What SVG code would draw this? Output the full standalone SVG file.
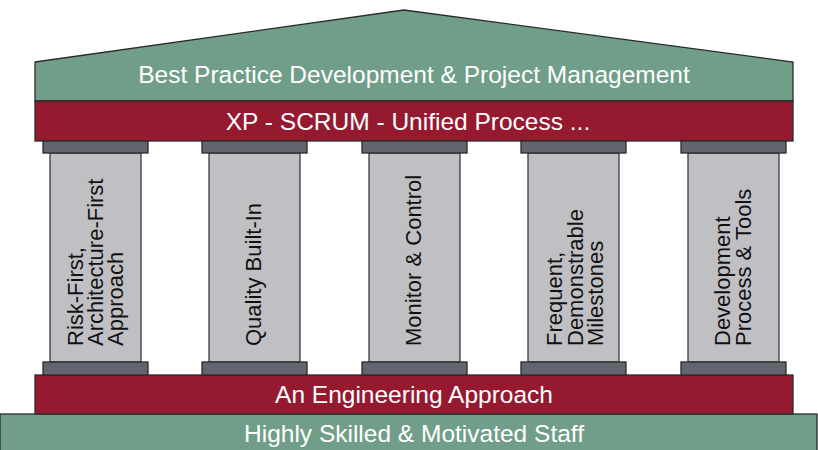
<svg xmlns="http://www.w3.org/2000/svg" width="818" height="450" viewBox="0 0 818 450">
<defs>
<style>
.green{fill:#719e89;stroke:#2a2a2a;stroke-width:1.3}
.red{fill:#951a30;stroke:#2a2a2a;stroke-width:1.3}
.cap{fill:#62656e;stroke:#2a2a2a;stroke-width:1.3}
.shaft{fill:#c0bfc4;stroke:#3a3a3a;stroke-width:1.3}
.wt{font-family:"Liberation Sans",Arial,sans-serif;font-size:24.5px;fill:#ffffff;text-anchor:middle}
.ct{font-family:"Liberation Sans",Arial,sans-serif;font-size:22px;fill:#111111;text-anchor:start}
</style>
</defs>
<rect width="818" height="450" fill="#ffffff"/>
<g id="base">
<rect class="green" x="0" y="414" width="817" height="40"/>
<text class="wt" x="414" y="442">Highly Skilled &amp; Motivated Staff</text>
</g>
<g id="foundation">
<rect class="red" x="35" y="375" width="758" height="39"/>
<text class="wt" x="414" y="403">An Engineering Approach</text>
</g>
<g id="roof">
<polygon class="green" points="35,62 404,10 793,62 793,101 35,101"/>
<text class="wt" x="414" y="83">Best Practice Development &amp; Project Management</text>
</g>
<g id="entablature">
<rect class="red" x="35" y="101" width="758" height="40"/>
<text class="wt" x="408" y="130">XP - SCRUM - Unified Process ...</text>
</g>
<g id="pillar1">
<rect class="shaft" x="50" y="153" width="91" height="209"/>
<rect class="cap" x="43" y="141" width="105" height="12"/>
<rect class="cap" x="43" y="362" width="105" height="13"/>
<text class="ct" transform="translate(83,346) rotate(-90)">Risk-First,</text>
<text class="ct" transform="translate(103,346) rotate(-90)">Architecture-First</text>
<text class="ct" transform="translate(123,346) rotate(-90)">Approach</text>
</g>
<g id="pillar2">
<rect class="shaft" x="209" y="153" width="91" height="209"/>
<rect class="cap" x="202" y="141" width="105" height="12"/>
<rect class="cap" x="202" y="362" width="105" height="13"/>
<text class="ct" transform="translate(261,346) rotate(-90)">Quality Built-In</text>
</g>
<g id="pillar3">
<rect class="shaft" x="369" y="153" width="91" height="209"/>
<rect class="cap" x="362" y="141" width="105" height="12"/>
<rect class="cap" x="362" y="362" width="105" height="13"/>
<text class="ct" transform="translate(421,346) rotate(-90)">Monitor &amp; Control</text>
</g>
<g id="pillar4">
<rect class="shaft" x="528" y="153" width="91" height="209"/>
<rect class="cap" x="521" y="141" width="105" height="12"/>
<rect class="cap" x="521" y="362" width="105" height="13"/>
<text class="ct" transform="translate(562,346) rotate(-90)">Frequent,</text>
<text class="ct" transform="translate(583,346) rotate(-90)">Demonstrable</text>
<text class="ct" transform="translate(603,346) rotate(-90)">Milestones</text>
</g>
<g id="pillar5">
<rect class="shaft" x="688" y="153" width="91" height="209"/>
<rect class="cap" x="681" y="141" width="105" height="12"/>
<rect class="cap" x="681" y="362" width="105" height="13"/>
<text class="ct" transform="translate(730,346) rotate(-90)">Development</text>
<text class="ct" transform="translate(751,346) rotate(-90)">Process &amp; Tools</text>
</g>
<g id="connectors"></g>
</svg>
